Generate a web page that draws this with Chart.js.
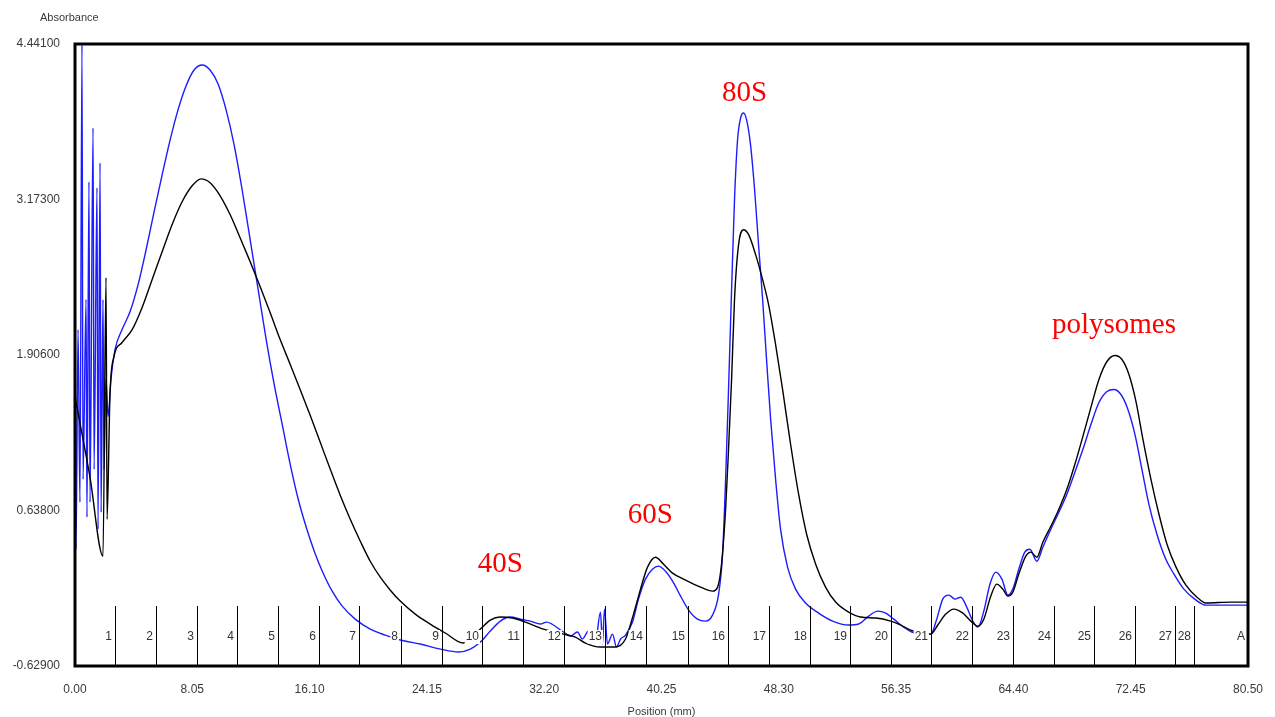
<!DOCTYPE html>
<html>
<head>
<meta charset="utf-8">
<script src="https://cdn.jsdelivr.net/npm/chart.js@4.4.1/dist/chart.umd.min.js"></script>
<style>
  html, body { margin: 0; padding: 0; background: #fff; }
  canvas { display: block; }
</style>
</head>
<body>
<canvas id="profile" width="1275" height="717" style="width:1275px;height:717px"></canvas>
<script>
// gradient profile, absorbance vs position (mm)
const blackPos = [0, 1.03, 1.92, 2.13, 2.20, 2.40, 2.68, 3.23, 3.92, 4.60,
  5.29, 5.98, 6.66, 7.35, 8.04, 8.65, 9.27, 9.96, 10.65, 11.33,
  12.02, 12.71, 13.39, 14.08, 14.77, 15.45, 16.14, 16.83, 17.52, 18.20,
  18.89, 19.58, 20.26, 20.95, 21.64, 22.32, 23.35, 24.38, 25.41, 26.65,
  27.82, 28.50, 29.19, 30.02, 30.91, 32.15, 33.52, 34.34, 35.03, 36.06,
  37.09, 37.78, 38.33, 38.81, 39.29, 39.84, 40.39, 41.01, 41.90, 42.93,
  43.75, 44.10, 44.37, 44.65, 44.85, 45.06, 45.26, 45.54, 45.88, 46.23,
  46.71, 47.19, 47.60, 48.08, 48.56, 49.11, 49.66, 50.21, 50.83, 51.51,
  52.20, 53.09, 53.92, 54.95, 55.98, 56.67, 57.35, 58.73, 59.21, 59.76,
  60.31, 60.93, 61.48, 61.96, 62.37, 62.85, 63.26, 63.67, 64.02, 64.36,
  64.77, 65.25, 65.59, 66.01, 66.42, 66.97, 67.52, 68.07, 68.62, 69.17,
  69.72, 70.27, 70.82, 71.37, 71.85, 72.33, 72.81, 73.29, 73.84, 74.39,
  74.94, 75.56, 76.24, 77.00, 77.62, 79.33, 80.50];
const blackAbs = [1.568, 0.909, 0.266, 2.537, 0.567, 1.584, 1.894, 2.008, 2.113, 2.292,
  2.520, 2.748, 2.968, 3.155, 3.285, 3.342, 3.310, 3.204, 3.049, 2.862,
  2.667, 2.463, 2.252, 2.032, 1.829, 1.625, 1.414, 1.194, 0.974, 0.763,
  0.567, 0.388, 0.225, 0.095, -0.011, -0.100, -0.206, -0.287, -0.360, -0.442,
  -0.328, -0.255, -0.230, -0.238, -0.271, -0.328, -0.369, -0.393, -0.442, -0.474,
  -0.474, -0.409, -0.206, -0.002, 0.177, 0.258, 0.201, 0.128, 0.071, 0.014,
  -0.019, 0.014, 0.201, 0.649, 1.137, 1.707, 2.358, 2.805, 2.927, 2.887,
  2.724, 2.520, 2.317, 1.991, 1.625, 1.178, 0.771, 0.445, 0.201, 0.014,
  -0.108, -0.190, -0.230, -0.238, -0.263, -0.295, -0.336, -0.369, -0.295, -0.206,
  -0.165, -0.198, -0.263, -0.304, -0.247, -0.059, 0.038, -0.002, -0.059, -0.027,
  0.120, 0.266, 0.299, 0.258, 0.380, 0.510, 0.649, 0.811, 1.015, 1.243,
  1.479, 1.707, 1.853, 1.902, 1.869, 1.747, 1.528, 1.218, 0.893, 0.608,
  0.364, 0.177, 0.030, -0.068, -0.116, -0.108, -0.108];

const bluePos = [0, 0.07, 0.21, 0.34, 0.48, 0.55, 0.76, 0.82, 0.96, 1.03,
  1.24, 1.31, 1.51, 1.58, 1.72, 1.79, 1.92, 1.99, 2.13, 2.27,
  2.47, 2.75, 3.23, 3.78, 4.33, 4.88, 5.43, 5.98, 6.53, 7.07,
  7.62, 8.17, 8.72, 9.27, 9.82, 10.37, 10.92, 11.47, 12.02, 12.57,
  13.12, 13.67, 14.22, 14.77, 15.32, 15.87, 16.42, 16.97, 17.65, 18.34,
  19.23, 20.26, 21.29, 22.32, 23.70, 25.07, 26.31, 27.13, 27.82, 28.50,
  29.19, 29.88, 30.57, 31.25, 31.94, 32.35, 33.52, 34.00, 34.48, 34.82,
  35.24, 35.72, 36.06, 36.20, 36.34, 36.54, 36.89, 37.16, 37.44, 37.78,
  38.26, 38.67, 39.15, 39.63, 40.04, 40.52, 41.01, 41.56, 42.11, 42.72,
  43.27, 43.75, 44.17, 44.44, 44.65, 44.85, 45.06, 45.26, 45.47, 45.68,
  45.88, 46.09, 46.36, 46.64, 46.91, 47.19, 47.46, 47.74, 48.08, 48.42,
  48.90, 49.45, 50.14, 51.03, 51.99, 53.09, 53.78, 54.47, 55.09, 55.64,
  56.19, 56.87, 57.42, 58.73, 59.14, 59.55, 59.97, 60.38, 60.79, 61.20,
  61.61, 61.96, 62.37, 62.79, 63.20, 63.61, 64.02, 64.36, 64.77, 65.18,
  65.53, 66.01, 66.42, 66.97, 67.52, 68.07, 68.62, 69.17, 69.72, 70.27,
  70.82, 71.30, 71.78, 72.26, 72.74, 73.22, 73.70, 74.25, 74.80, 75.42,
  76.10, 76.93, 77.62, 80.50];
const blueAbs = [3.521, 0.323, 2.113, 0.706, 4.433, 0.893, 2.358, 0.584, 3.318, 0.706,
  3.757, 0.974, 3.269, 0.486, 3.472, 0.624, 2.358, 0.974, 1.707, 1.405,
  1.707, 1.951, 2.113, 2.260, 2.480, 2.764, 3.074, 3.375, 3.660, 3.904,
  4.099, 4.229, 4.270, 4.229, 4.115, 3.904, 3.619, 3.253, 2.846, 2.439,
  2.032, 1.666, 1.340, 1.015, 0.730, 0.502, 0.307, 0.144, -0.019, -0.141,
  -0.247, -0.328, -0.377, -0.417, -0.450, -0.491, -0.515, -0.491, -0.434, -0.344,
  -0.263, -0.230, -0.247, -0.263, -0.287, -0.271, -0.352, -0.385, -0.352, -0.409,
  -0.344, -0.426, -0.190, -0.450, -0.165, -0.450, -0.369, -0.474, -0.409, -0.377,
  -0.271, -0.084, 0.079, 0.160, 0.185, 0.144, 0.063, -0.059, -0.173, -0.247,
  -0.263, -0.214, -0.043, 0.282, 0.893, 1.625, 2.439, 3.171, 3.660, 3.839,
  3.879, 3.822, 3.619, 3.253, 2.805, 2.358, 1.869, 1.381, 0.893, 0.486,
  0.177, -0.002, -0.116, -0.198, -0.263, -0.295, -0.287, -0.222, -0.182, -0.198,
  -0.247, -0.312, -0.352, -0.369, -0.247, -0.084, -0.051, -0.084, -0.068, -0.149,
  -0.263, -0.312, -0.182, 0.038, 0.136, 0.079, -0.051, -0.002, 0.160, 0.299,
  0.323, 0.225, 0.339, 0.486, 0.624, 0.771, 0.950, 1.137, 1.340, 1.519,
  1.609, 1.625, 1.584, 1.462, 1.259, 0.974, 0.689, 0.445, 0.258, 0.120,
  -0.002, -0.092, -0.133, -0.133];

const xTicks = [0, 8.05, 16.10, 24.15, 32.20, 40.25, 48.30, 56.35, 64.40, 72.45, 80.50];
const yTicks = [-0.629, 0.638, 1.906, 3.173, 4.441];

// fraction collector boundaries (mm) and names
const fractionEdges = [2.75, 5.56, 8.38, 11.13, 13.94, 16.76, 19.51, 22.39, 25.21, 27.96,
  30.77, 33.59, 36.40, 39.22, 42.04, 44.79, 47.60, 50.42, 53.17, 55.98,
  58.73, 61.55, 64.36, 67.18, 69.93, 72.74, 75.49, 76.80];
const fractionNames = ['1', '2', '3', '4', '5', '6', '7', '8', '9', '10',
  '11', '12', '13', '14', '15', '16', '17', '18', '19', '20',
  '21', '22', '23', '24', '25', '26', '27', '28', 'A'];

// peak names and where they sit (mm, absorbance)
const peakNames = ['40S', '60S', '80S', 'polysomes'];
const peakPos = [29.19, 39.49, 45.95, 71.30];
const peakAbs = [0.200, 0.600, 4.040, 2.150];

const toPoints = (xs, ys) => xs.map((v, i) => ({ x: v, y: ys[i] }));

const axisFont = { family: '"Liberation Sans", Arial, sans-serif', size: 12 };
const axisColor = '#3a3a3a';

const overlay = {
  id: 'overlay',
  afterDatasetsDraw(chart) {
    const { ctx, chartArea: a, scales: { x, y } } = chart;
    ctx.save();

    // fraction marks
    ctx.strokeStyle = '#000';
    ctx.lineWidth = 1;
    fractionEdges.forEach(v => {
      const px = Math.round(x.getPixelForValue(v)) + 0.5;
      ctx.beginPath();
      ctx.moveTo(px, a.bottom);
      ctx.lineTo(px, a.bottom - 60);
      ctx.stroke();
    });

    // fraction names on white boxes
    ctx.font = '12px "Liberation Sans", Arial, sans-serif';
    ctx.textAlign = 'right';
    ctx.textBaseline = 'middle';
    const ly = a.bottom - 29;
    fractionNames.forEach((t, i) => {
      const edge = i < fractionEdges.length ? fractionEdges[i] : x.max;
      const right = Math.round(x.getPixelForValue(edge)) - 3;
      const w = ctx.measureText(t).width;
      ctx.fillStyle = '#fff';
      ctx.fillRect(right - w - 1, ly - 7, w + 2, 14);
      ctx.fillStyle = '#333';
      ctx.fillText(t, right, ly);
    });

    // peak names
    ctx.font = '29px "Liberation Serif", "Times New Roman", serif';
    ctx.fillStyle = '#ff0000';
    ctx.textAlign = 'center';
    peakNames.forEach((t, i) => {
      ctx.fillText(t, x.getPixelForValue(peakPos[i]), y.getPixelForValue(peakAbs[i]));
    });

    // plot frame
    ctx.strokeStyle = '#000';
    ctx.lineWidth = 3;
    ctx.strokeRect(a.left, a.top, a.right - a.left, a.bottom - a.top);

    // y title
    ctx.font = '11px "Liberation Sans", Arial, sans-serif';
    ctx.fillStyle = axisColor;
    ctx.textAlign = 'left';
    ctx.fillText('Absorbance', 40, 18);
    ctx.restore();
  }
};

new Chart(document.getElementById('profile'), {
  type: 'line',
  data: {
    datasets: [
      {
        label: 'sample 1',
        data: toPoints(blackPos, blackAbs),
        borderColor: '#000',
        borderWidth: 1.4,
        pointRadius: 0,
        cubicInterpolationMode: 'monotone'
      },
      {
        label: 'sample 2',
        data: toPoints(bluePos, blueAbs),
        borderColor: '#1c1cff',
        borderWidth: 1.4,
        pointRadius: 0,
        cubicInterpolationMode: 'monotone'
      }
    ]
  },
  options: {
    responsive: false,
    animation: false,
    layout: { padding: { top: 44, right: 27, left: 0, bottom: 0 } },
    plugins: {
      legend: { display: false },
      tooltip: { enabled: false }
    },
    scales: {
      x: {
        type: 'linear',
        min: 0,
        max: 80.5,
        afterBuildTicks: s => { s.ticks = xTicks.map(v => ({ value: v })); },
        afterFit: s => {
          s.height = 51;
          // labels at the ends may overhang the frame
          s.paddingLeft = 0;
          s.paddingRight = 0;
        },
        grid: { display: false, drawTicks: false },
        border: { display: false },
        ticks: {
          autoSkip: false,
          maxRotation: 0,
          padding: 16,
          color: axisColor,
          font: axisFont,
          callback: v => Number(v).toFixed(2)
        },
        title: {
          display: true,
          text: 'Position (mm)',
          color: axisColor,
          font: { family: axisFont.family, size: 11, lineHeight: 1 },
          padding: { top: 0, bottom: 0 }
        }
      },
      y: {
        type: 'linear',
        min: -0.629,
        max: 4.441,
        afterBuildTicks: s => { s.ticks = yTicks.map(v => ({ value: v })); },
        afterFit: s => { s.width = 75; },
        grid: { display: false, drawTicks: false },
        border: { display: false },
        ticks: {
          autoSkip: false,
          padding: 15,
          color: axisColor,
          font: axisFont,
          callback: v => Number(v).toFixed(5)
        }
      }
    }
  },
  plugins: [overlay]
});
</script>
</body>
</html>
